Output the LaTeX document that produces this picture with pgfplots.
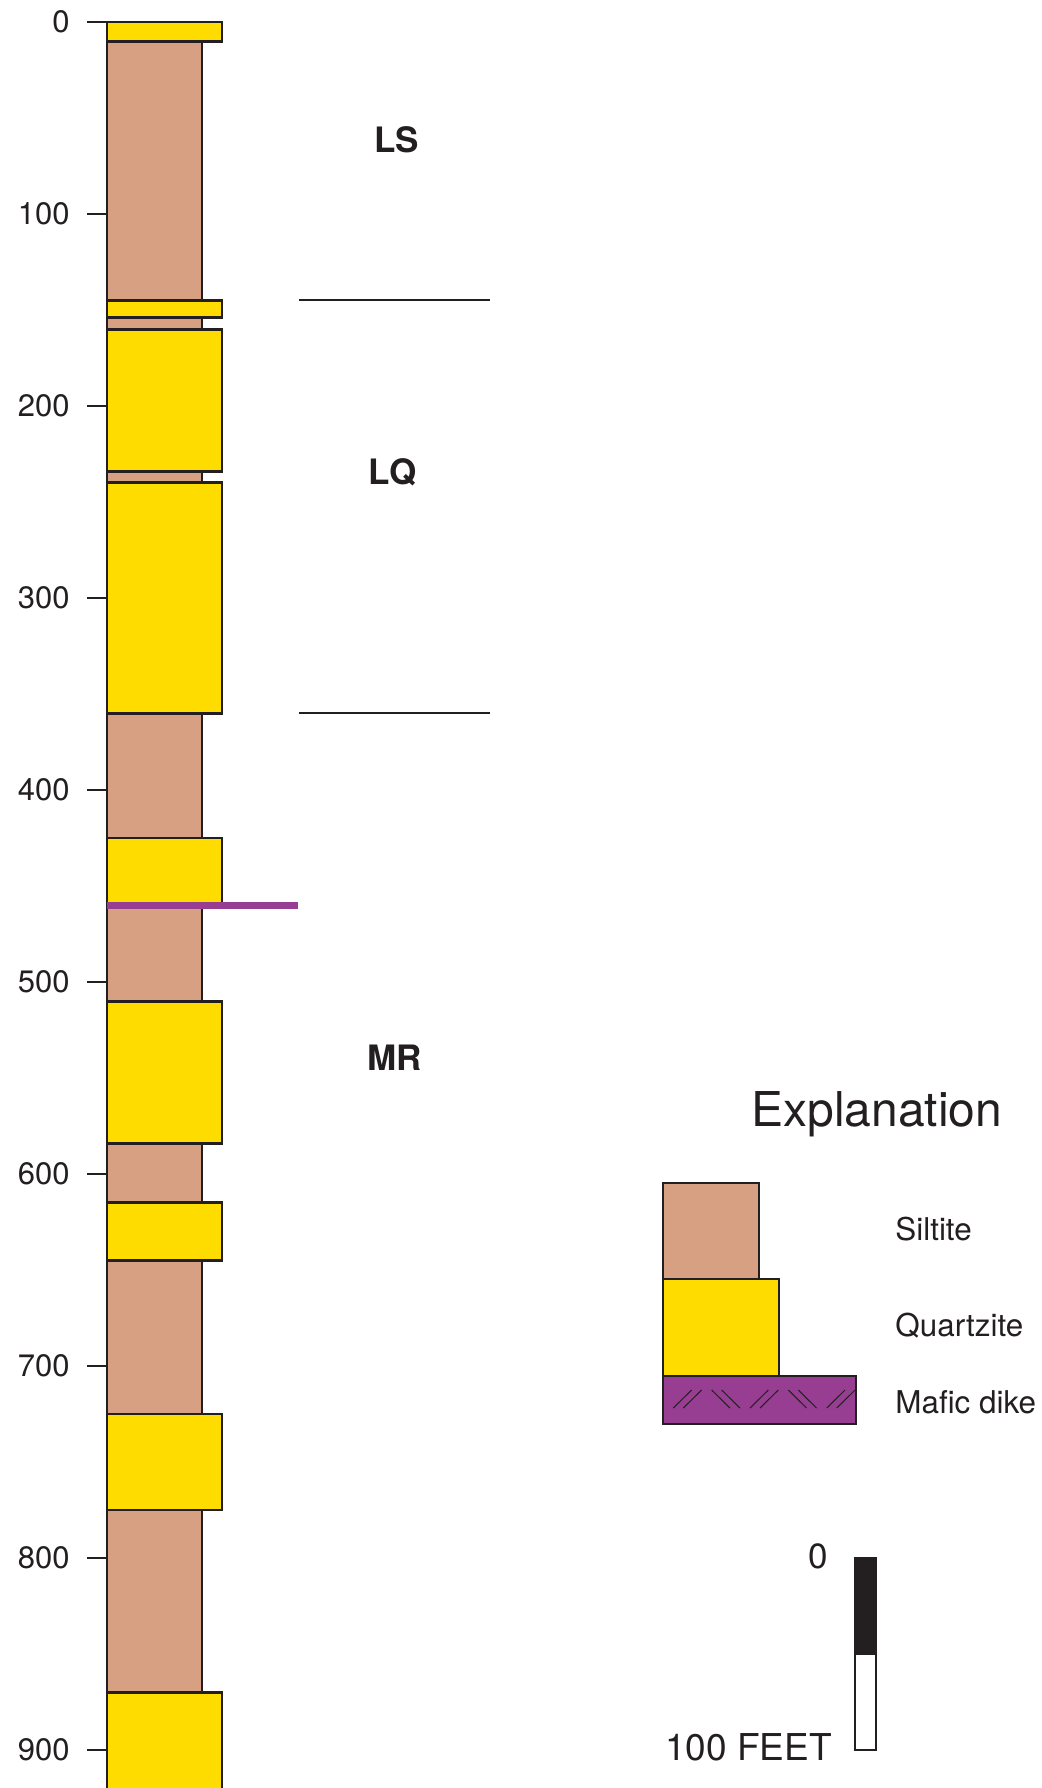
\documentclass[border=0pt]{standalone}
\usepackage{fontspec}
\setmainfont{TeX Gyre Heros}
\usepackage{pgfplots}
\pgfplotsset{compat=1.18}

\definecolor{ink}{HTML}{231F20}
\definecolor{silt}{HTML}{D8A083}
\definecolor{qtz}{HTML}{FFDC00}
\definecolor{dike}{HTML}{973E93}

% x in picture pixels, y in feet of depth
\newcommand\siltlayer[2]{\addplot[draw=ink, line width=1.4pt, fill=silt] coordinates {(107,#1) (202,#1) (202,#2) (107,#2)} -- cycle;}
\newcommand\qtzlayer[2]{\addplot[draw=ink, line width=1.4pt, fill=qtz] coordinates {(107,#1) (222,#1) (222,#2) (107,#2)} -- cycle;}

\begin{document}
\begin{tikzpicture}
\begin{axis}[
  scale only axis, width=467.5pt, height=894pt,
  xmin=107, xmax=1042, ymin=-11.458, ymax=919.79, y dir=reverse,
  axis x line=none, axis y line=left, axis line style={draw=none},
  ytick={0,100,...,900}, tick align=outside, major tick length=10pt,
  every tick/.style={ink, line width=1.3pt},
  yticklabel style={font=\fontsize{15.5}{18}\selectfont, text=ink, inner sep=0pt},
  yticklabel shift=8.5pt,
  /pgf/number format/assume math mode=true,
  clip=false,
]
% siltite
\siltlayer{10}{145}
\siltlayer{154}{160}
\siltlayer{234}{240}
\siltlayer{360}{425}
\siltlayer{460}{510}
\siltlayer{584}{615}
\siltlayer{645}{725}
\siltlayer{775}{870}
% quartzite
\qtzlayer{0}{10}
\qtzlayer{145}{154}
\qtzlayer{160}{234}
\qtzlayer{240}{360}
\qtzlayer{425}{460}
\qtzlayer{510}{584}
\qtzlayer{615}{645}
\qtzlayer{725}{775}
\qtzlayer{870}{930}
% mafic dike
\addplot[dike, line width=3.5pt] coordinates {(107,460) (298,460)};
% formation contacts
\addplot[ink, line width=1pt] coordinates {(299,145) (490,145)};
\addplot[ink, line width=1pt] coordinates {(299,360) (490,360)};

\node[anchor=base west, inner sep=0pt, font=\bfseries\fontsize{17.5}{20}\selectfont, text=ink] at (axis cs:374,68.1) {LS};
\node[anchor=base west, inner sep=0pt, font=\bfseries\fontsize{17.5}{20}\selectfont, text=ink] at (axis cs:368,241) {LQ};
\node[anchor=base west, inner sep=0pt, font=\bfseries\fontsize{17.5}{20}\selectfont, text=ink] at (axis cs:367,546.2) {MR};

% explanation
\node[anchor=base west, inner sep=0pt, font=\fontsize{24}{28}\selectfont, text=ink] at (axis cs:751,575.3) {Explanation};
\draw[draw=ink, line width=1.4pt, fill=silt] (axis cs:663,604.7) rectangle (axis cs:759,654.7);
\draw[draw=ink, line width=1.4pt, fill=qtz] (axis cs:663,654.7) rectangle (axis cs:779,705.2);
\draw[draw=ink, line width=1.4pt, fill=dike] (axis cs:663,705.2) rectangle (axis cs:856,730.2);
\draw[ink, line width=0.5pt] (axis cs:673.3,721.9) -- (axis cs:691.6,712.5);
\draw[ink, line width=0.5pt] (axis cs:683.3,721.9) -- (axis cs:701.6,712.5);
\draw[ink, line width=0.5pt] (axis cs:711.7,712.5) -- (axis cs:730.0,721.9);
\draw[ink, line width=0.5pt] (axis cs:721.7,712.5) -- (axis cs:740.0,721.9);
\draw[ink, line width=0.5pt] (axis cs:750.0,721.9) -- (axis cs:768.3,712.5);
\draw[ink, line width=0.5pt] (axis cs:760.0,721.9) -- (axis cs:778.3,712.5);
\draw[ink, line width=0.5pt] (axis cs:788.3,712.5) -- (axis cs:806.6,721.9);
\draw[ink, line width=0.5pt] (axis cs:798.3,712.5) -- (axis cs:816.6,721.9);
\draw[ink, line width=0.5pt] (axis cs:826.7,721.9) -- (axis cs:845.0,712.5);
\draw[ink, line width=0.5pt] (axis cs:836.7,721.9) -- (axis cs:855.0,712.5);
\node[anchor=base west, inner sep=0pt, font=\fontsize{15.7}{18}\selectfont, text=ink] at (axis cs:895,634.7) {Siltite};
\node[anchor=base west, inner sep=0pt, font=\fontsize{15.7}{18}\selectfont, text=ink] at (axis cs:895,684.7) {Quartzite};
\node[anchor=base west, inner sep=0pt, font=\fontsize{15.7}{18}\selectfont, text=ink] at (axis cs:895,724.6) {Mafic dike};

% scale bar
\draw[draw=ink, line width=1pt, fill=ink] (axis cs:855,800) rectangle (axis cs:876,850);
\draw[draw=ink, line width=1pt, fill=white] (axis cs:855,850) rectangle (axis cs:876,900);
\node[anchor=base west, inner sep=0pt, font=\fontsize{17.5}{20}\selectfont, text=ink] at (axis cs:808.3,805.4) {0};
\node[anchor=base west, inner sep=0pt, font=\fontsize{18.5}{21}\selectfont, text=ink] at (axis cs:665,905.2) {100 FEET};

\coordinate (bbA) at (axis cs:0,919.79);
\coordinate (bbB) at (axis cs:1042,-11.458);
\end{axis}
\pgfresetboundingbox
\useasboundingbox (bbA) rectangle (bbB);
\end{tikzpicture}
\end{document}
